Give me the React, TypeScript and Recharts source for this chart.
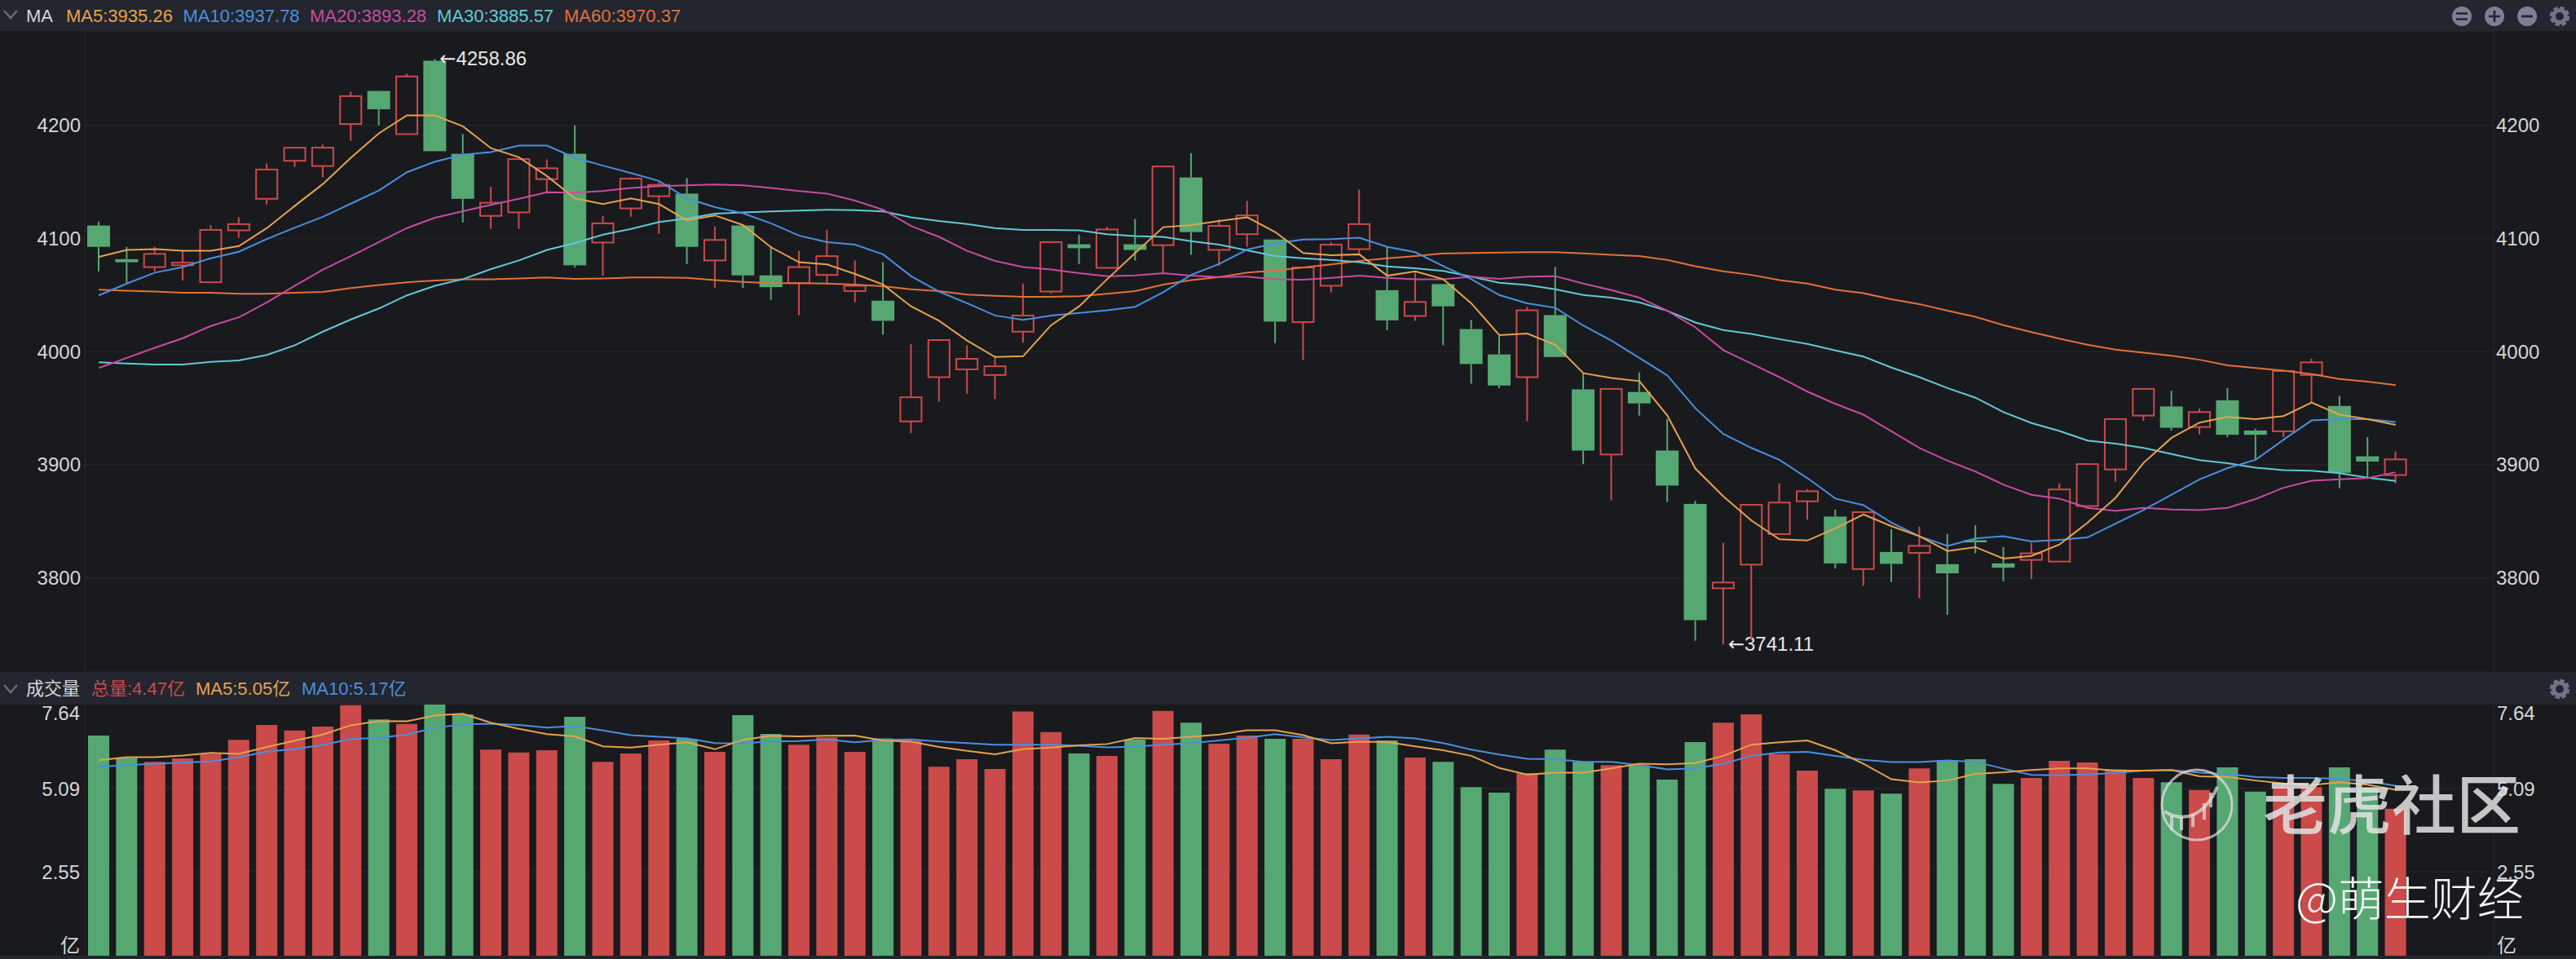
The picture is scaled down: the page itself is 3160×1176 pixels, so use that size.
import React from "react";
import { ComposedChart, Bar, Line, XAxis, YAxis, CartesianGrid, Cell } from "recharts";

const opens = [
  4111.5, 4081.7, 4074.7, 4076.3, 4061.3, 4107.2, 4135.1, 4168.7, 4164.1, 4201.2,
  4230.5, 4192.3, 4257.2, 4174.9, 4120.0, 4123.1, 4152.5, 4174.9, 4096.4, 4126.6,
  4137.4, 4139.7, 4080.6, 4111.5, 4067.4, 4060.5, 4067.8, 4053.5, 4045.0, 3938.3,
  3977.4, 3984.3, 3979.3, 4017.6, 4053.1, 4094.9, 4074.0, 4094.9, 4094.1, 4154.0,
  4089.9, 4103.8, 4099.1, 4026.1, 4058.2, 4090.6, 4054.3, 4031.5, 4059.7, 4019.9,
  3997.5, 3977.4, 4032.3, 3966.6, 3909.0, 3964.3, 3912.5, 3865.3, 3790.7, 3811.6,
  3838.6, 3867.6, 3854.1, 3807.7, 3822.8, 3822.0, 3812.0, 3833.2, 3812.7, 3815.8,
  3814.3, 3863.4, 3895.8, 3943.4, 3951.5, 3933.3, 3956.9, 3930.2, 3929.5, 3979.3,
  3951.9, 3907.4, 3890.8,
];
const closes = [
  4092.6, 4079.0, 4086.4, 4078.6, 4107.6, 4112.7, 4161.0, 4180.3, 4180.3, 4225.9,
  4214.3, 4243.3, 4177.2, 4135.1, 4131.6, 4170.2, 4162.1, 4076.3, 4113.4, 4152.9,
  4147.4, 4092.6, 4098.7, 4067.4, 4057.0, 4074.7, 4084.4, 4058.2, 4027.2, 3959.6,
  4010.2, 3993.6, 3987.0, 4031.9, 4096.8, 4091.4, 4108.0, 4089.9, 4163.7, 4105.7,
  4111.1, 4120.4, 4026.5, 4074.4, 4094.5, 4112.7, 4027.6, 4043.9, 4040.0, 3989.0,
  3970.0, 4036.5, 3995.2, 3912.5, 3967.0, 3954.2, 3881.5, 3762.5, 3795.8, 3864.5,
  3866.5, 3876.5, 3812.7, 3858.0, 3812.3, 3828.2, 3803.9, 3831.3, 3808.9, 3821.6,
  3878.1, 3900.5, 3940.3, 3967.0, 3932.6, 3946.5, 3926.4, 3926.4, 3982.8, 3990.5,
  3892.8, 3902.8, 3904.7,
];
const highs = [
  4115.0, 4092.6, 4092.6, 4089.1, 4111.9, 4118.8, 4166.4, 4180.3, 4183.0, 4229.8,
  4230.5, 4245.6, 4258.86, 4192.3, 4145.5, 4170.2, 4169.9, 4200.0, 4120.0, 4154.0,
  4149.7, 4153.6, 4110.7, 4111.5, 4093.0, 4089.1, 4107.6, 4080.6, 4079.0, 4006.8,
  4010.2, 4005.6, 3996.3, 4060.1, 4096.8, 4103.4, 4110.3, 4117.3, 4163.7, 4175.6,
  4116.9, 4133.1, 4099.1, 4074.4, 4096.8, 4143.2, 4092.6, 4069.8, 4059.7, 4028.0,
  4013.7, 4039.6, 4074.8, 3980.9, 3967.0, 3981.6, 3940.3, 3868.0, 3830.9, 3864.5,
  3883.5, 3878.4, 3860.3, 3858.0, 3842.9, 3845.2, 3838.6, 3846.4, 3827.1, 3830.9,
  3883.5, 3901.3, 3940.3, 3967.0, 3965.4, 3949.6, 3967.7, 3931.8, 3982.8, 3993.6,
  3960.8, 3924.4, 3911.7,
];
const lows = [
  4070.9, 4060.9, 4070.9, 4062.8, 4061.3, 4100.7, 4130.0, 4163.3, 4154.0, 4186.5,
  4200.0, 4192.3, 4177.2, 4114.2, 4108.4, 4108.4, 4141.3, 4074.4, 4067.1, 4119.2,
  4104.2, 4077.5, 4056.2, 4056.2, 4045.8, 4032.3, 4060.1, 4043.5, 4014.9, 3927.9,
  3955.7, 3962.7, 3958.1, 4007.9, 4051.2, 4077.5, 4074.0, 4080.6, 4069.8, 4085.6,
  4076.0, 4092.6, 4007.5, 3992.5, 4052.4, 4087.1, 4019.1, 4027.2, 4005.6, 3971.6,
  3967.7, 3938.3, 3995.2, 3900.5, 3868.4, 3943.4, 3866.9, 3744.3, 3741.11, 3745.1,
  3838.6, 3851.4, 3808.1, 3792.7, 3796.1, 3781.8, 3767.2, 3821.6, 3796.9, 3798.8,
  3814.3, 3863.4, 3885.0, 3938.7, 3930.2, 3926.8, 3924.4, 3904.3, 3924.4, 3955.0,
  3879.2, 3888.5, 3883.5,
];

const ma5 = [
  4083.7, 4089.9, 4090.6, 4089.1, 4089.1, 4093.3, 4109.2, 4128.9, 4148.2, 4171.4,
  4193.0, 4208.9, 4208.9, 4199.2, 4179.9, 4171.8, 4155.2, 4135.5, 4130.4, 4135.5,
  4130.4, 4116.1, 4120.4, 4111.9, 4092.2, 4079.0, 4077.1, 4068.6, 4059.3, 4040.0,
  4027.2, 4009.8, 3995.2, 3995.9, 4023.4, 4040.0, 4064.0, 4087.1, 4110.0, 4111.9,
  4115.4, 4118.8, 4105.7, 4087.1, 4085.2, 4086.0, 4067.1, 4070.9, 4064.0, 4042.7,
  4014.5, 4016.0, 4006.0, 3980.9, 3976.6, 3973.9, 3943.4, 3896.6, 3871.9, 3850.6,
  3834.0, 3832.9, 3843.7, 3856.0, 3845.6, 3836.7, 3823.6, 3827.1, 3817.0, 3819.3,
  3829.4, 3848.7, 3870.7, 3901.6, 3923.7, 3937.2, 3942.2, 3940.3, 3943.0, 3955.0,
  3944.2, 3940.3, 3935.26,
];
const ma10 = [
  4049.7, 4060.1, 4069.8, 4074.8, 4082.5, 4088.3, 4099.5, 4109.6, 4119.2, 4130.8,
  4142.4, 4158.6, 4167.9, 4174.1, 4176.4, 4182.2, 4182.2, 4171.4, 4164.4, 4157.9,
  4150.9, 4135.5, 4127.7, 4122.3, 4113.4, 4102.6, 4096.8, 4094.5, 4086.0, 4066.7,
  4053.1, 4042.7, 4031.9, 4028.0, 4031.9, 4034.2, 4036.5, 4039.6, 4052.4, 4067.8,
  4077.5, 4090.2, 4095.6, 4099.1, 4099.5, 4100.7, 4092.6, 4087.9, 4075.5, 4064.0,
  4050.0, 4042.7, 4038.8, 4023.0, 4009.8, 3994.4, 3978.9, 3949.9, 3927.1, 3914.8,
  3904.3, 3888.1, 3870.0, 3864.2, 3848.7, 3836.7, 3828.2, 3834.8, 3836.7, 3832.1,
  3833.6, 3835.6, 3847.9, 3859.9, 3873.4, 3887.0, 3897.0, 3904.3, 3922.1, 3939.1,
  3940.3, 3940.3, 3937.78,
];
const ma20 = [
  3985.5, 3994.4, 4003.3, 4011.8, 4022.6, 4030.3, 4043.5, 4058.2, 4072.5, 4084.4,
  4096.8, 4109.2, 4118.4, 4124.2, 4129.7, 4135.1, 4140.9, 4140.5, 4142.0, 4144.7,
  4146.3, 4147.1, 4147.8, 4147.1, 4144.7, 4142.0, 4139.7, 4133.5, 4125.4, 4111.1,
  4101.4, 4089.1, 4080.2, 4074.8, 4072.5, 4069.4, 4066.7, 4067.4, 4069.4, 4067.1,
  4065.9, 4066.3, 4064.0, 4063.6, 4065.1, 4067.1, 4065.1, 4064.0, 4064.0, 4066.3,
  4064.3, 4066.3, 4066.7, 4060.1, 4054.3, 4047.7, 4036.1, 4021.4, 4001.3, 3989.4,
  3977.4, 3964.6, 3953.8, 3944.2, 3929.5, 3914.8, 3903.6, 3893.9, 3882.3, 3873.4,
  3870.0, 3861.8, 3859.1, 3861.8, 3860.3, 3859.9, 3861.8, 3869.6, 3879.6, 3885.8,
  3887.0, 3888.1, 3893.28,
];
const ma30 = [
  3990.5, 3989.4, 3988.6, 3988.6, 3990.9, 3992.1, 3997.1, 4005.6, 4017.6, 4028.4,
  4038.1, 4049.7, 4058.2, 4064.0, 4072.9, 4080.6, 4089.9, 4096.0, 4103.4, 4108.4,
  4114.6, 4117.7, 4121.9, 4123.1, 4123.9, 4124.6, 4125.4, 4125.0, 4123.9, 4118.8,
  4115.4, 4112.7, 4109.2, 4107.6, 4107.6, 4107.2, 4103.8, 4102.2, 4101.4, 4097.6,
  4094.5, 4089.5, 4084.4, 4082.5, 4081.0, 4079.0, 4075.2, 4073.6, 4071.3, 4066.3,
  4060.9, 4058.9, 4055.1, 4050.0, 4047.7, 4043.5, 4036.1, 4025.7, 4019.1, 4015.6,
  4011.0, 4006.8, 4001.0, 3995.6, 3985.9, 3977.4, 3967.7, 3959.2, 3946.5, 3936.8,
  3929.8, 3921.3, 3918.6, 3914.8, 3909.4, 3904.0, 3901.3, 3897.4, 3895.1, 3894.7,
  3892.4, 3888.5, 3885.57,
];
const ma60 = [
  4054.7, 4053.9, 4053.1, 4052.0, 4052.0, 4051.2, 4051.2, 4052.0, 4052.8, 4056.2,
  4058.9, 4061.3, 4062.8, 4064.0, 4064.0, 4064.7, 4065.5, 4064.3, 4064.7, 4065.5,
  4065.5, 4065.1, 4063.2, 4061.6, 4060.5, 4060.5, 4060.1, 4059.3, 4057.8, 4055.1,
  4053.5, 4050.4, 4049.3, 4048.5, 4048.5, 4048.9, 4051.2, 4053.5, 4059.3, 4063.2,
  4065.9, 4069.8, 4071.7, 4074.4, 4077.1, 4080.2, 4082.5, 4084.4, 4086.8, 4087.1,
  4087.5, 4087.9, 4087.9, 4086.8, 4085.6, 4084.4, 4081.0, 4075.5, 4070.9, 4067.8,
  4063.2, 4060.1, 4054.7, 4051.6, 4046.2, 4042.0, 4036.1, 4030.7, 4023.4, 4017.2,
  4011.4, 4006.0, 4001.7, 3999.0, 3996.3, 3992.8, 3987.8, 3985.5, 3983.2, 3980.1,
  3975.8, 3973.5, 3970.37,
];

const volumes = [
  6.70, 6.02, 5.90, 6.00, 6.13, 6.57, 7.02, 6.85, 6.97, 7.62,
  7.19, 7.05, 7.64, 7.34, 6.27, 6.18, 6.25, 7.27, 5.90, 6.15,
  6.55, 6.60, 6.20, 7.32, 6.75, 6.42, 6.64, 6.20, 6.61, 6.54,
  5.75, 5.98, 5.68, 7.43, 6.80, 6.15, 6.08, 6.58, 7.45, 7.09,
  6.45, 6.70, 6.60, 6.60, 5.98, 6.73, 6.55, 6.03, 5.90, 5.13,
  4.96, 5.55, 6.27, 5.90, 5.80, 5.79, 5.36, 6.50, 7.09, 7.34,
  6.13, 5.63, 5.08, 5.03, 4.93, 5.70, 5.94, 5.98, 5.23, 5.41,
  5.93, 5.88, 5.67, 5.41, 5.28, 5.04, 5.73, 4.99, 5.13, 5.13,
  5.73, 5.13, 4.47,
];
const volMa5 = [
  5.95, 6.04, 6.04, 6.09, 6.17, 6.14, 6.35, 6.54, 6.73, 7.01,
  7.14, 7.13, 7.31, 7.36, 7.09, 6.90, 6.74, 6.67, 6.37, 6.33,
  6.42, 6.49, 6.28, 6.57, 6.69, 6.67, 6.69, 6.70, 6.54, 6.51,
  6.35, 6.23, 6.13, 6.29, 6.33, 6.40, 6.44, 6.62, 6.60, 6.66,
  6.73, 6.86, 6.86, 6.71, 6.46, 6.51, 6.50, 6.37, 6.25, 6.08,
  5.71, 5.51, 5.57, 5.57, 5.70, 5.84, 5.82, 5.86, 6.08, 6.42,
  6.49, 6.55, 6.25, 5.84, 5.37, 5.27, 5.33, 5.53, 5.58, 5.65,
  5.70, 5.70, 5.63, 5.63, 5.65, 5.46, 5.44, 5.33, 5.24, 5.19,
  5.28, 5.20, 5.05,
];
const volMa10 = [
  5.75, 5.80, 5.84, 5.87, 5.91, 6.04, 6.21, 6.29, 6.41, 6.59,
  6.63, 6.73, 6.93, 7.04, 7.06, 7.02, 6.94, 6.99, 6.85, 6.71,
  6.66, 6.61, 6.47, 6.46, 6.52, 6.53, 6.58, 6.49, 6.57, 6.58,
  6.52, 6.47, 6.42, 6.42, 6.42, 6.39, 6.34, 6.36, 6.42, 6.47,
  6.55, 6.63, 6.74, 6.64, 6.56, 6.61, 6.66, 6.61, 6.47, 6.27,
  6.12, 5.99, 5.98, 5.90, 5.90, 5.80, 5.67, 5.70, 5.84, 6.08,
  6.18, 6.20, 6.08, 5.96, 5.89, 5.89, 5.94, 5.90, 5.69, 5.50,
  5.49, 5.51, 5.56, 5.63, 5.65, 5.57, 5.53, 5.44, 5.41, 5.41,
  5.38, 5.30, 5.17,
];

const priceTicks = [3800, 3900, 4000, 4100, 4200];
const volumeTicks = [0, 2.55, 5.09, 7.64];
const EMPTY_SLOTS = 3;

const UP = "#cb4a4a";
const DOWN = "#56a873";
const BG = "#191a1e";
const HEADER = "#23262e";
const GRID = "#222429";
const TEXT = "#d6d6d6";
const C_MA5 = "#e6a24c";
const C_MA10 = "#4a8fe0";
const C_MA20 = "#c84ba2";
const C_MA30 = "#62c9d6";
const C_MA60 = "#e2703a";
const FONT = '"Liberation Sans", "Noto Sans CJK SC", sans-serif';

const rows = Array.from({ length: opens.length + EMPTY_SLOTS }, (_, i) =>
  i < opens.length
    ? {
        idx: i,
        open: opens[i],
        close: closes[i],
        high: highs[i],
        low: lows[i],
        ma5: ma5[i],
        ma10: ma10[i],
        ma20: ma20[i],
        ma30: ma30[i],
        ma60: ma60[i],
        vol: volumes[i],
        volMa5: volMa5[i],
        volMa10: volMa10[i],
      }
    : { idx: i }
);

const maxHigh = Math.max(...highs);
const minLow = Math.min(...lows);

function Candle(props: any) {
  const { x, y, width, height, payload } = props;
  if (payload == null || payload.high == null) return null;
  const { open, close, high, low } = payload;
  const k = height / (high - low);
  const yOf = (v: number) => y + (high - v) * k;
  const cx = x + width / 2;
  const up = close >= open;
  const color = up ? UP : DOWN;
  const top = yOf(Math.max(open, close));
  const bottom = yOf(Math.min(open, close));
  const label = high === maxHigh ? high : low === minLow ? low : null;
  return (
    <g>
      <line x1={cx} x2={cx} y1={yOf(high)} y2={top} stroke={color} strokeWidth={2} />
      <line x1={cx} x2={cx} y1={bottom} y2={yOf(low)} stroke={color} strokeWidth={2} />
      {up ? (
        <rect x={x + 1} y={top} width={width - 2} height={Math.max(bottom - top, 1)} fill={BG} stroke={color} strokeWidth={2} />
      ) : (
        <rect x={x} y={top} width={width} height={Math.max(bottom - top, 2)} fill={color} />
      )}
      {label != null && (
        <text x={cx + 6} y={yOf(label)} dy={8} fontSize={24} fill="#e8e8e8" fontFamily={FONT}>
          <tspan fontFamily='"DejaVu Sans"'>←</tspan>
          {label.toFixed(2)}
        </text>
      )}
    </g>
  );
}

function VolumeTick(props: any) {
  const { x, y, payload, textAnchor } = props;
  const v = payload.value;
  const shift = v === 7.64 ? 11 : v === 0 ? -12 : 1;
  return (
    <text x={x} y={y + shift} dy={8} textAnchor={textAnchor} fontSize={24} fill={TEXT} fontFamily={FONT}>
      {v === 0 ? "亿" : v.toFixed(2)}
    </text>
  );
}

function Chevron({ top }: { top: number }) {
  return (
    <svg width={24} height={16} style={{ position: "absolute", left: 1, top }}>
      <path d="M4 3 L12 12 L20 3" fill="none" stroke="#666b78" strokeWidth={2.5} />
    </svg>
  );
}

function Gear({ x, y }: { x: number; y: number }) {
  return (
    <g transform={`translate(${x} ${y})`}>
      <circle r={7.5} fill="none" stroke="#6f7588" strokeWidth={5} />
      <circle r={10.5} fill="none" stroke="#6f7588" strokeWidth={3.5} strokeDasharray="5.5 2.75" />
    </g>
  );
}

function RoundButton({ x, glyph }: { x: number; glyph: string }) {
  return (
    <g transform={`translate(${x} 20)`}>
      <circle r={12} fill="#7b8194" />
      {glyph === "=" && <path d="M-7 -3.5 H7 M-7 3.5 H7" stroke={HEADER} strokeWidth={2.6} />}
      {glyph === "+" && <path d="M-7 0 H7 M0 -7 V7" stroke={HEADER} strokeWidth={2.6} />}
      {glyph === "-" && <path d="M-7 0 H7" stroke={HEADER} strokeWidth={2.8} />}
    </g>
  );
}

function HeaderText({ x, y, color, children }: { x: number; y: number; color: string; children: React.ReactNode }) {
  return (
    <div style={{ position: "absolute", left: x, top: y, color, fontSize: 22, lineHeight: "26px", fontFamily: FONT, whiteSpace: "nowrap" }}>
      {children}
    </div>
  );
}

export default function App() {
  return (
    <div style={{ position: "fixed", left: 0, top: 0, width: 3160, height: 1176, background: BG, overflow: "hidden" }}>
      <div style={{ position: "absolute", left: 0, top: 0, width: 3160, height: 38, background: HEADER }} />
      <div style={{ position: "absolute", left: 0, top: 824, width: 3160, height: 40, background: HEADER }} />
      <div style={{ position: "absolute", left: 0, top: 1172, width: 3160, height: 4, background: HEADER }} />

      <Chevron top={10} />
      <HeaderText x={32} y={7} color={TEXT}>MA</HeaderText>
      <HeaderText x={81} y={7} color={C_MA5}>MA5:3935.26</HeaderText>
      <HeaderText x={224.5} y={7} color={C_MA10}>MA10:3937.78</HeaderText>
      <HeaderText x={380} y={7} color={C_MA20}>MA20:3893.28</HeaderText>
      <HeaderText x={536} y={7} color={C_MA30}>MA30:3885.57</HeaderText>
      <HeaderText x={692} y={7} color={C_MA60}>MA60:3970.37</HeaderText>

      <Chevron top={837} />
      <HeaderText x={32} y={832} color={TEXT}>成交量</HeaderText>
      <HeaderText x={112} y={832} color={UP}>总量:4.47亿</HeaderText>
      <HeaderText x={240} y={832} color={C_MA5}>MA5:5.05亿</HeaderText>
      <HeaderText x={370} y={832} color={C_MA10}>MA10:5.17亿</HeaderText>

      <div style={{ position: "absolute", left: 0, top: 38 }}>
        <ComposedChart width={3160} height={786} data={rows} margin={{ top: 0, right: 0, bottom: 0, left: 0 }} barCategoryGap={0}>
          <CartesianGrid yAxisId="left" vertical={false} stroke={GRID} strokeWidth={1.5} />
          <XAxis dataKey="idx" hide />
          <YAxis
            yAxisId="left"
            width={104}
            domain={[3716.7, 4283.5]}
            ticks={priceTicks}
            allowDataOverflow
            tickLine={false}
            tickSize={0}
            tickMargin={5}
            axisLine={{ stroke: GRID, strokeWidth: 1.5 }}
            tick={{ fill: TEXT, fontSize: 24, fontFamily: FONT }}
          />
          <YAxis
            yAxisId="right"
            orientation="right"
            width={101}
            domain={[3716.7, 4283.5]}
            ticks={priceTicks}
            allowDataOverflow
            tickLine={false}
            tickSize={0}
            tickMargin={3}
            axisLine={{ stroke: GRID, strokeWidth: 1.5 }}
            tick={{ fill: TEXT, fontSize: 24, fontFamily: FONT }}
          />
          <Bar
            yAxisId="left"
            dataKey={(d: any) => (d.high == null ? null : [d.low, d.high])}
            barSize={28}
            shape={(p: any) => <Candle {...p} />}
            isAnimationActive={false}
          />
          <Line yAxisId="left" dataKey="ma60" stroke={C_MA60} strokeWidth={2} dot={false} isAnimationActive={false} />
          <Line yAxisId="left" dataKey="ma30" stroke={C_MA30} strokeWidth={2} dot={false} isAnimationActive={false} />
          <Line yAxisId="left" dataKey="ma20" stroke={C_MA20} strokeWidth={2} dot={false} isAnimationActive={false} />
          <Line yAxisId="left" dataKey="ma10" stroke={C_MA10} strokeWidth={2} dot={false} isAnimationActive={false} />
          <Line yAxisId="left" dataKey="ma5" stroke={C_MA5} strokeWidth={2} dot={false} isAnimationActive={false} />
        </ComposedChart>
      </div>

      <div style={{ position: "absolute", left: 0, top: 864 }}>
        <ComposedChart width={3160} height={308} data={rows} margin={{ top: 0, right: 0, bottom: 0, left: 0 }} barCategoryGap={0}>
          <CartesianGrid yAxisId="left" vertical={false} stroke={GRID} strokeWidth={1.5} horizontalValues={[2.55, 5.09]} />
          <XAxis dataKey="idx" hide />
          <YAxis
            yAxisId="left"
            width={104}
            domain={[0, 7.64]}
            ticks={volumeTicks}
            interval={0}
            allowDataOverflow
            tickLine={false}
            tickSize={0}
            tickMargin={6}
            axisLine={{ stroke: GRID, strokeWidth: 1.5 }}
            tick={(p: any) => <VolumeTick {...p} />}
          />
          <YAxis
            yAxisId="right"
            orientation="right"
            width={101}
            domain={[0, 7.64]}
            ticks={volumeTicks}
            interval={0}
            allowDataOverflow
            tickLine={false}
            tickSize={0}
            tickMargin={4}
            axisLine={{ stroke: GRID, strokeWidth: 1.5 }}
            tick={(p: any) => <VolumeTick {...p} />}
          />
          <Bar yAxisId="left" dataKey="vol" barSize={26} isAnimationActive={false}>
            {rows.map((r: any) => (
              <Cell key={r.idx} fill={r.close >= r.open ? UP : DOWN} />
            ))}
          </Bar>
          <Line yAxisId="left" dataKey="volMa10" stroke={C_MA10} strokeWidth={2} dot={false} isAnimationActive={false} />
          <Line yAxisId="left" dataKey="volMa5" stroke={C_MA5} strokeWidth={2} dot={false} isAnimationActive={false} />
        </ComposedChart>
      </div>

      {/* toolbar icons and the two watermarks sit on top of everything */}
      <svg width={3160} height={1176} style={{ position: "absolute", left: 0, top: 0, pointerEvents: "none" }}>
        <RoundButton x={3020} glyph="=" />
        <RoundButton x={3060} glyph="+" />
        <RoundButton x={3100} glyph="-" />
        <Gear x={3140} y={20} />
        <Gear x={3140} y={845} />

        <g fill="none" stroke="#e4e4e4" strokeOpacity={0.7} strokeWidth={3}>
          <circle cx={2695} cy={987} r={43} />
          <path d="M2655 995 C2680 1010 2705 1000 2720 965" strokeWidth={4} />
          <path d="M2664 1000 V1018 M2676 1002 V1018 M2690 998 V1014 M2704 985 V1005 M2712 972 V990" strokeWidth={4} />
        </g>
        <text x={2776} y={1017} fontSize={79} fontWeight={500} fill="#e2e2e2" fillOpacity={0.86} fontFamily='"Noto Sans CJK SC"'>老虎社区</text>
        <text x={2816} y={1123} fontSize={57} fontWeight={300} fill="#f4f4f4" fontFamily='"Noto Sans CJK SC"'>@萌生财经</text>
      </svg>
    </div>
  );
}
